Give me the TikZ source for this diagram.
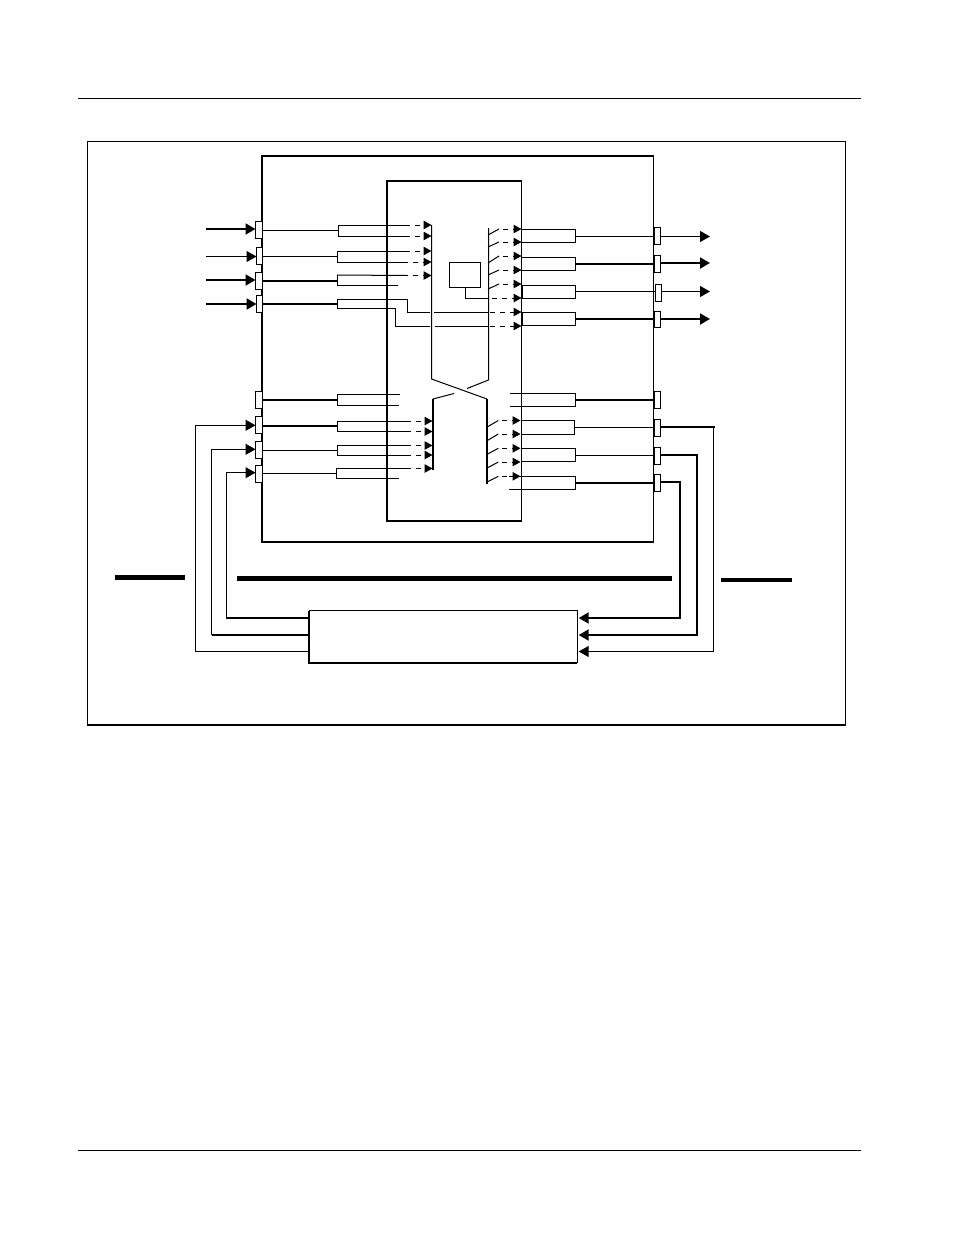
\documentclass[tikz,border=0pt]{standalone}
\usetikzlibrary{arrows.meta,calc}
\tikzset{
  x=1pt,y=-1pt,
  thin line/.style={line width=1pt,line cap=butt},
  thick line/.style={line width=2pt,line cap=butt},
  mid line/.style={line width=1.5pt},
  portbox/.style={draw,fill=white,line width=1pt,inner sep=0pt,outer sep=0pt},
  bigarrow/.style={-{Triangle[length=10pt,width=11pt]}},
  smallarrow/.style={line width=1pt,dash pattern=on 5pt off 5pt,-{Triangle[length=8pt,width=8.5pt]}},
  bar/.style={line width=5pt},
  plainbox/.style={draw,line width=1pt,inner sep=0pt,outer sep=0pt}
}
% name, x1, y1, x2, y2
\newcommand\portnode[5]{\node[portbox,minimum width={(#4-#2)*1pt},minimum height={(#5-#3)*1pt}] (#1) at ({(#2+#4)/2},{(#3+#5)/2}) {};}
% bracket open to the right: name, x, top, mid, bottom
\newcommand\opens[5]{\coordinate (#1) at (#2,#4);\coordinate (#1t) at (#2,#3);\coordinate (#1b) at (#2,#5);
  \draw[thin line] (#1t) -- (#1b);}
% dashed arrow: y, start, tip
\newcommand\dasharrow[3]{\draw[smallarrow] (#2,#1) -- (#3,#1);}
\begin{document}
\begin{tikzpicture}
\useasboundingbox (0,0) rectangle (954,1235);
\fill[white] (0,0) rectangle (954,1235);
% page rules
\coordinate (ruleAl) at (78,98.5); \coordinate (ruleAr) at (861,98.5);
\coordinate (ruleBl) at (78,1150); \coordinate (ruleBr) at (861,1150);
\draw[thin line] (ruleAl) -- (ruleAr);
\draw[thin line] (ruleBl) -- (ruleBr);
% outer frame
\draw[thin line] (87.5,725) -- (87.5,141.5) -- (845.7,141.5) -- (845.7,725);
\draw[thick line] (87,724.8) -- (846.2,724.8);
% device frame
\draw[thick line] (654,156.2) -- (261.5,156.2) -- (261.5,542) -- (654,542);
\draw[thin line] (653.5,155) -- (653.5,543);
% core frame
\draw[mid line] (521.5,181.2) -- (387,181.2) -- (387,520.8) -- (521.5,520.8);
\draw[thin line] (521.5,180.5) -- (521.5,521.5);
% small box in the core
\node[plainbox,minimum width=31pt,minimum height=25pt] (ctl) at (465,275) {};
% crossbar
\coordinate (busLt) at (431.5,225); \coordinate (busLm) at (431.5,379);
\coordinate (busRt) at (488.5,228); \coordinate (busRm) at (488.5,380);
\coordinate (busLd) at (433,399); \coordinate (busLe) at (433,470);
\coordinate (busRd) at (487,399); \coordinate (busRe) at (487,484);
\draw[thin line] (busLt) -- (busLm) -- (busRd);
\draw[mid line] (busRd) -- (busRe);
\draw[thin line] (busRt) -- (busRm) -- (467,388.5);
\draw[thin line] (454,393.5) -- (busLd);
\draw[mid line] (busLd) -- (busLe);
% left ports
\portnode{pa}{255.5}{221.5}{262}{238}
\portnode{pb}{256.5}{247}{262}{264}
\portnode{pc}{255.5}{272}{262}{289}
\portnode{pd}{256.5}{295}{262}{312}
\portnode{pe}{255.5}{391.3}{262}{408.3}
\portnode{pf}{255.5}{416.3}{262}{433.3}
\portnode{pg}{255.5}{441.3}{262}{458.3}
\portnode{ph}{255.5}{465.3}{262}{482.3}
% right ports
\portnode{qa}{654}{227.5}{660.5}{244.5}
\portnode{qb}{654}{255.3}{660.5}{272.3}
\portnode{qc}{655.3}{284.3}{661.7}{301.3}
\portnode{qd}{654}{311.3}{660.5}{327.3}
\portnode{qe}{654}{391.3}{660.5}{408.3}
\portnode{qf}{654}{419.3}{660.5}{436.7}
\portnode{qg}{654}{447.3}{660.5}{464.7}
\portnode{qh}{654}{474.3}{660.5}{491.3}
% input arrows
\coordinate (ia) at (206,229); \coordinate (ib) at (206,256.5);
\coordinate (ic) at (206,280); \coordinate (id) at (206,304);
\draw[thick line,bigarrow] (ia) -- (ia -| pa.west);
\draw[thin line,bigarrow] (ib) -- (ib -| pb.west);
\draw[thick line,bigarrow] (ic) -- (ic -| pc.west);
\draw[thick line,bigarrow] (id) -- (id -| pd.west);
% output arrows
\coordinate (oa) at (710,236.5); \coordinate (ob) at (710,263);
\coordinate (oc) at (710,291.5); \coordinate (od) at (710,319);
\draw[thin line,bigarrow] (oa -| qa.east) -- (oa);
\draw[thick line,bigarrow] (ob -| qb.east) -- (ob);
\draw[thin line,bigarrow] (oc -| qc.east) -- (oc);
\draw[thick line,bigarrow] (od -| qd.east) -- (od);
% left brackets
\opens{la}{338}{225}{230}{236}
\opens{lb}{337}{251}{256}{262}
\opens{lc}{337}{275}{281}{285}
\opens{ld}{337}{299}{304}{308}
\opens{le}{337.3}{394.3}{400}{405.3}
\opens{lf}{337.3}{421.3}{426}{431.3}
\opens{lg}{337.3}{445.7}{450.3}{455.3}
\opens{lh}{336.3}{468.3}{473.3}{478.3}
\draw[thin line] (pa.east |- la) -- (la);
\draw[thin line] (pb.east |- lb) -- (lb);
\draw[thick line] (pc.east |- lc) -- (lc);
\draw[thick line] (pd.east |- ld) -- (ld);
\draw[thick line] (pe.east |- le) -- (le);
\draw[thick line] (pf.east |- lf) -- (lf);
\draw[thin line] (pg.east |- lg) -- (lg);
\draw[thin line] (ph.east |- lh) -- (lh);
% bracket arms, left
\draw[thin line] (lat) -- (410,225);
\draw[thin line] (lab) -- (410,236);
\draw[thin line] (lbt) -- (410,251);
\draw[thin line] (lbb) -- (408,262);
\draw[thin line] (lct) -- (408,275.5);
\draw[thin line] (lcb) -- (398,285);
\draw[thin line] (let) -- (400,394.3);
\draw[thin line] (leb) -- (398.7,405.3);
\draw[thin line] (lft) -- (411,421.3);
\draw[thin line] (lfb) -- (411,431.3);
\draw[thin line] (lgt) -- (411,445.7);
\draw[thin line] (lgb) -- (411,455.3);
\draw[thin line] (lht) -- (411,468.3);
\draw[thin line] (lhb) -- (398.7,478.3);
\dasharrow{225}{415}{431.5}
\dasharrow{236}{415}{431.5}
\dasharrow{251}{415}{431.5}
\dasharrow{262}{413}{431.5}
\dasharrow{275.5}{413}{431.5}
\dasharrow{421}{416}{432.5}
\dasharrow{431.5}{416}{432.5}
\dasharrow{445.5}{416}{432.5}
\dasharrow{455}{416}{432.5}
\dasharrow{468.5}{416}{432.5}
% crossing links
\draw[thin line] (ldt) -- (407,299) -- (407,312) -- (430,312);
\draw[thin line] (434,312) -- (488,312);
\draw[thin line] (ldb) -- (395,308) -- (395,326) -- (430,326);
\draw[thin line] (435,326) -- (488,326);
\dasharrow{312}{490}{521.5}
\dasharrow{326}{490}{521.5}
% box feed
\draw[thin line] (ctl.south) -- (ctl.south |- 0,298) -- (488,298);
\dasharrow{298}{492}{521.5}
% upper right switches
\foreach \ya/\yb in {229/235,242/247,256/263,270/275,284/289}{
  \draw[thin line] (488,\yb) -- (499,\ya);
  \dasharrow{\ya}{503}{521.5}
}
% lower right switches
\foreach \ya/\yb in {420.5/426.7,434/440.3,448.3/454,462/467.7,476.3/481.7}{
  \draw[thin line] (487.7,\yb) -- (498.3,\ya);
  \dasharrow{\ya}{502}{520.5}
}
% right brackets
\newcommand\closes[6]{\coordinate (#1) at (#2,#4);\coordinate (#1t) at (#2,#3);\coordinate (#1b) at (#2,#5);
  \draw[thin line] (#6,#3) -- (#1t) -- (#1b) -- (#6,#5);}
\closes{ra}{575.7}{229}{236}{242}{521}
\closes{rb}{575.7}{257.3}{264}{270}{521}
\closes{rc}{575.7}{285.3}{291.7}{298.3}{521}
\closes{rd}{575.7}{312.3}{319}{325.3}{521}
\closes{re}{575.7}{393.7}{400}{406}{510}
\closes{rf}{574.7}{420.7}{427.3}{434}{521}
\closes{rg}{575.7}{448.3}{455.3}{461.3}{521}
\closes{rh}{575.7}{476.7}{483}{489.3}{509}
\draw[mid line] (522,285) -- (522,298.5);
\draw[mid line] (522,312) -- (522,325.5);
\draw[mid line] (521.5,420.5) -- (521.5,434);
\draw[thin line] (ra) -- (ra -| qa.west);
\draw[thick line] (rb) -- (rb -| qb.west);
\draw[thin line] (rc) -- (rc -| qc.west);
\draw[thick line] (rd) -- (rd -| qd.west);
\draw[thick line] (re) -- (re -| qe.west);
\draw[thin line] (rf) -- (rf -| qf.west);
\draw[thin line] (rg) -- (rg -| qg.west);
\draw[thick line] (rh) -- (rh -| qh.west);
% feedback block
\node[inner sep=0pt,outer sep=0pt,minimum width=268pt,minimum height=52.4pt] (fb) at (443.2,636.7) {};
\draw[thin line] (fb.north west) -- (fb.north east) -- (fb.south east);
\draw[mid line] (fb.north west) -- (fb.south west) -- (fb.south east);
% feedback to the left ports
\coordinate (fla) at (195.7,651.5); \coordinate (flb) at (211.7,635); \coordinate (flc) at (226.5,618);
\draw[thin line,bigarrow] (fb.west |- fla) -- (fla) -- (195.7,425.3) -- (pf.west |- 0,425.3);
\draw[thick line] (fb.west |- flb) -- (flb);
\draw[thin line,bigarrow] (flb) -- (211.7,449.3) -- (pg.west |- 0,449.3);
\draw[thick line] (fb.west |- flc) -- (225.8,618);
\draw[thin line,bigarrow] (flc) -- (226.5,472.7) -- (ph.west |- 0,472.7);
% feedback from the right ports
\coordinate (fra) at (713.7,651.5); \coordinate (frb) at (697,635); \coordinate (frc) at (680,618);
\draw[thick line] (qf.east |- 0,427) -- (714.5,427);
\draw[thin line,bigarrow] (713.7,427) -- (fra) -- ($(fb.east |- fra)+(1.5,0)$);
\draw[thick line,bigarrow] (qg.east |- 0,455) -- (697,455) -- (frb) -- ($(fb.east |- frb)+(1.5,0)$);
\draw[thick line,bigarrow] (qh.east |- 0,482) -- (680,482) -- (frc) -- ($(fb.east |- frc)+(1.5,0)$);
% heavy bars
\coordinate (bal) at (115,577.5); \coordinate (bar) at (185,577.5);
\coordinate (bbl) at (237,578.3); \coordinate (bbr) at (672,578.3);
\coordinate (bcl) at (721,580); \coordinate (bcr) at (792,580);
\draw[bar] (bal) -- (bar);
\draw[bar] (bbl) -- (bbr);
\draw[line width=4pt] (bcl) -- (bcr);
\end{tikzpicture}
\end{document}
